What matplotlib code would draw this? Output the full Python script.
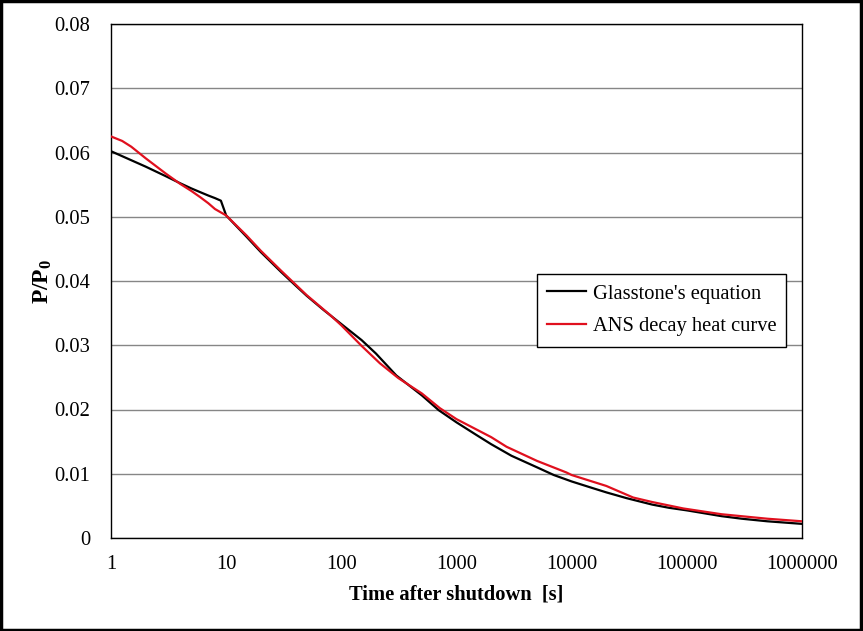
import matplotlib
matplotlib.use("Agg")
import matplotlib.pyplot as plt
from matplotlib.patches import Rectangle
from matplotlib.ticker import FixedLocator, FixedFormatter, NullLocator

# ---- data ----
glass_t = [1, 2, 3, 4, 5, 6, 7, 8, 9, 10, 15, 20, 30, 40, 50, 70, 100, 150,
           200, 300, 500, 700, 1000, 1500, 2000, 3000, 5000, 7000, 10000, 15000,
           20000, 30000, 50000, 70000, 100000, 200000, 300000, 500000, 1000000]
glass_p = [0.0602, 0.0578, 0.0563, 0.0552, 0.0544, 0.0538, 0.0533, 0.0529, 0.0525,
           0.0502, 0.0469, 0.0445, 0.0414, 0.0393, 0.0377, 0.0355, 0.0333, 0.0308,
           0.0287, 0.0253, 0.0222, 0.0199, 0.0180, 0.0160, 0.0146, 0.0128, 0.0110,
           0.0098, 0.0088, 0.0078, 0.0071, 0.0062, 0.0052, 0.0047, 0.0043, 0.0034,
           0.0030, 0.0026, 0.0022]

ans_t = [1, 1.25, 1.5, 2, 3, 4, 5, 6, 7, 8, 10, 15, 20, 30, 50, 80, 100, 150,
         216, 312, 500, 718, 1000, 2000, 2720, 5000, 7400, 9000, 10000, 20000,
         34200, 50000, 93000, 200000, 500000, 1000000]
ans_p = [0.0625, 0.0618, 0.0609, 0.0591, 0.0567, 0.0551, 0.0540, 0.0530, 0.0521,
         0.0512, 0.0502, 0.0471, 0.0447, 0.0416, 0.0378, 0.0347, 0.0331, 0.0299,
         0.0272, 0.0249, 0.0225, 0.0202, 0.0185, 0.0157, 0.0142, 0.0120, 0.0108,
         0.0102, 0.0098, 0.0081, 0.0063, 0.0056, 0.0046, 0.0037, 0.0030, 0.0026]

x_ticks = [1, 10, 100, 1000, 10000, 100000, 1000000]
x_labels = ["1", "10", "100", "1000", "10000", "100000", "1000000"]
y_ticks = [0, 0.01, 0.02, 0.03, 0.04, 0.05, 0.06, 0.07, 0.08]
y_labels = ["0", "0.01", "0.02", "0.03", "0.04", "0.05", "0.06", "0.07", "0.08"]

# ---- style ----
plt.rcParams['font.family'] = ['Liberation Serif', 'DejaVu Serif']
plt.rcParams['mathtext.fontset'] = 'custom'
plt.rcParams['mathtext.rm'] = 'Liberation Serif'
plt.rcParams['mathtext.bf'] = 'Liberation Serif:bold'
plt.rcParams['mathtext.it'] = 'Liberation Serif:italic'

FS = 14.8
W, H = 863, 631
fig = plt.figure(figsize=(W / 100, H / 100), dpi=100)
L, R, T, B = 111, 802, 24, 538
ax = fig.add_axes([L / W, 1 - B / H, (R - L) / W, (B - T) / H])

ax.plot(glass_t, glass_p, color='black', lw=1.6, label="Glasstone's equation", zorder=3)
ax.plot(ans_t, ans_p, color='#e0101e', lw=1.6, label="ANS decay heat curve", zorder=4)

ax.set_xscale('log')
ax.set_xlim(1, 1000000)
ax.set_ylim(0, 0.08)
ax.xaxis.set_major_locator(FixedLocator(x_ticks))
ax.xaxis.set_major_formatter(FixedFormatter(x_labels))
ax.xaxis.set_minor_locator(NullLocator())
ax.yaxis.set_major_locator(FixedLocator(y_ticks))
ax.yaxis.set_major_formatter(FixedFormatter(y_labels))
ax.tick_params(axis='both', length=0, labelsize=FS, colors='black')
ax.tick_params(axis='y', pad=15)
ax.tick_params(axis='x', pad=12)

ax.grid(axis='y', color='#868686', lw=1.0)
ax.set_axisbelow(True)
for s in ax.spines.values():
    s.set_color('black')
    s.set_linewidth(1.0)

ax.set_xlabel("Time after shutdown  [s]", fontsize=FS, fontweight='bold', labelpad=8)
ax.set_ylabel(r"P/P$_\mathbf{0}$", fontsize=17, fontweight='bold', labelpad=0)

leg = ax.legend(loc='upper left', bbox_to_anchor=((537 - L) / (R - L), (B - 274) / (B - T)),
                fontsize=FS, frameon=True, fancybox=False, edgecolor='black',
                framealpha=1, handlelength=1.9, handletextpad=0.3, borderpad=0.5,
                labelspacing=0.65, borderaxespad=0)
leg.get_frame().set_linewidth(1.0)

fig.patches.append(Rectangle((0.0015, 0.002), 0.996, 0.996, transform=fig.transFigure,
                             fill=False, edgecolor='black', lw=2.5))

fig.savefig("out.png", dpi=100)
